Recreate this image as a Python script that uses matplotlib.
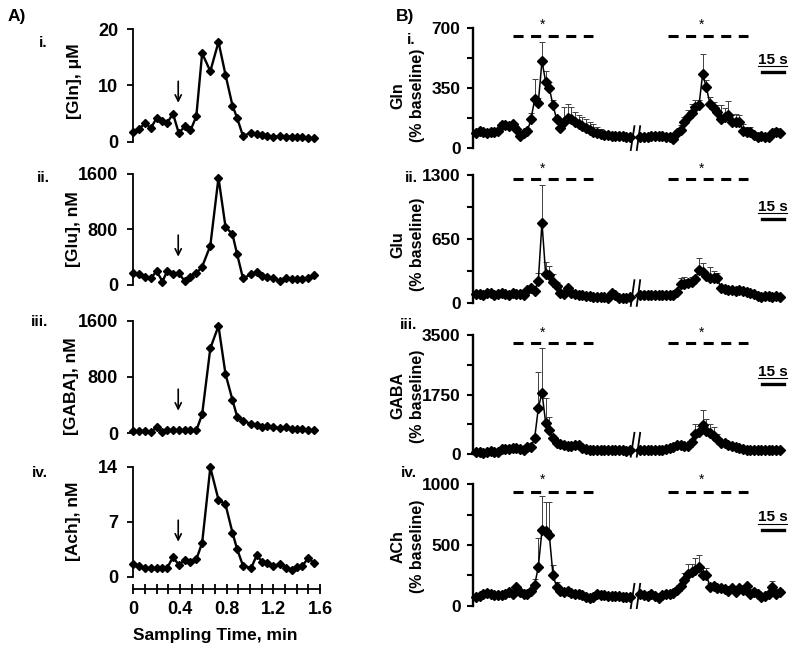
import numpy as np
import matplotlib
matplotlib.use("Agg")
import matplotlib.pyplot as plt
from matplotlib.ticker import MultipleLocator
from matplotlib.transforms import blended_transform_factory

plt.rcParams['font.family'] = ['Liberation Sans', 'DejaVu Sans']
plt.rcParams['font.weight'] = 'bold'
plt.rcParams['axes.labelweight'] = 'bold'

W, H = 800, 655

# ---------------- panel A data (sampling time in min) ----------------
t_a = [0, 0.05, 0.10, 0.15, 0.20, 0.25, 0.29, 0.34, 0.39, 0.44, 0.49, 0.54, 0.59, 0.66, 0.73, 0.79,
       0.85, 0.89, 0.94, 1.01, 1.06, 1.10, 1.15, 1.20, 1.26, 1.31, 1.36, 1.40, 1.45, 1.50, 1.55]
gln_a = [1.8, 2.2, 3.3, 2.4, 4.2, 3.7, 3.3, 5.0, 1.5, 2.7, 2.0, 4.5, 15.7, 12.5, 17.7, 11.9,
         6.4, 4.2, 1.0, 1.6, 1.4, 1.2, 1.0, 0.8, 1.0, 0.9, 0.9, 0.9, 0.8, 0.7, 0.6]
glu_a = [168, 154, 120, 96, 202, 48, 202, 154, 168, 58, 120, 168, 264, 566, 1546, 840,
         730, 442, 96, 154, 183, 134, 120, 96, 58, 96, 86, 86, 80, 100, 150]
gaba_a = [30, 30, 30, 15, 85, 20, 40, 40, 40, 40, 40, 40, 270, 1208, 1525, 843,
          473, 236, 179, 132, 118, 94, 101, 87, 71, 87, 60, 60, 55, 45, 40]
ach_a = [1.6, 1.4, 1.1, 1.1, 1.1, 1.1, 1.1, 2.5, 1.5, 2.1, 1.9, 2.2, 4.3, 13.9, 9.8, 9.2,
         5.6, 3.5, 1.4, 1.1, 2.8, 1.9, 1.7, 1.4, 1.6, 1.1, 0.9, 1.2, 1.4, 2.4, 1.7]
a_labels = ['[Gln], μM', '[Glu], nM', '[GABA], nM', '[Ach], nM']
a_ymax = [20, 1600, 1600, 14]
arrow_time = 0.385
arrow_tip = [6.9, 408, 321, 4.45]

# ---------------- panel B data (% baseline, 2.5 s samples) ----------------
t_left = 2 + 2.5 * np.arange(43)
t_right = 114 + 2.5 * np.arange(39)

gln_l = [88, 98, 90, 86, 94, 92, 100, 135, 132, 127, 137, 110, 68, 84, 96, 166, 283, 264, 508, 387,
         348, 250, 166, 113, 150, 172, 166, 152, 139, 127, 113, 103, 94, 88, 80, 74, 72, 70, 68, 68,
         66, 64, 62]
gln_l_err = [10, 10, 10, 10, 10, 10, 10, 15, 15, 15, 15, 15, 15, 15, 20, 40, 120, 30, 110, 60,
             40, 30, 20, 40, 90, 84, 75, 55, 52, 55, 57, 50, 44, 35, 30, 20, 15, 15, 15, 15,
             15, 15, 15]
gln_r = [60, 64, 64, 66, 68, 68, 66, 62, 60, 50, 84, 105, 152, 180, 205, 240, 250, 432, 354, 255,
         230, 210, 168, 182, 192, 150, 148, 150, 100, 90, 92, 74, 64, 66, 62, 64, 84, 94, 84]
gln_r_err = [10, 10, 10, 10, 10, 10, 10, 10, 10, 10, 20, 30, 30, 40, 50, 40, 30, 117, 40, 45,
             40, 40, 80, 50, 80, 40, 50, 40, 40, 30, 30, 15, 15, 15, 15, 15, 20, 20, 15]

glu_l = [95, 90, 84, 100, 108, 80, 90, 108, 90, 84, 100, 95, 95, 80, 135, 150, 128, 230, 817, 297,
         287, 220, 176, 100, 95, 150, 100, 95, 80, 85, 70, 70, 65, 60, 60, 60, 58, 100, 80, 55,
         50, 55, 60]
glu_l_err = [15, 15, 15, 15, 15, 15, 15, 15, 15, 15, 15, 15, 15, 15, 15, 15, 20, 80, 382, 125,
             90, 80, 40, 20, 15, 15, 15, 15, 15, 15, 15, 15, 15, 15, 15, 15, 15, 15, 15, 15,
             15, 15, 15]
glu_r = [84, 80, 84, 84, 80, 84, 84, 80, 84, 84, 118, 196, 200, 203, 215, 250, 338, 321, 275, 253,
         253, 252, 152, 145, 135, 135, 125, 130, 125, 118, 100, 90, 70, 65, 70, 75, 65, 70, 60]
glu_r_err = [15, 15, 15, 15, 15, 15, 15, 15, 15, 15, 30, 60, 70, 40, 50, 30, 118, 90, 40, 110,
             70, 50, 20, 30, 15, 15, 15, 15, 15, 15, 15, 15, 15, 15, 15, 15, 15, 15, 15]

gaba_l = [78, 60, 50, 80, 100, 78, 80, 147, 160, 160, 176, 176, 150, 130, 225, 210, 470, 1350, 1809, 929,
          714, 469, 342, 300, 274, 245, 245, 260, 270, 180, 150, 130, 120, 120, 120, 120, 120, 120, 120, 120,
          115, 110, 120]
gaba_l_err = [20, 20, 20, 20, 20, 20, 20, 20, 20, 20, 20, 20, 20, 20, 20, 20, 100, 1075, 1300, 714,
              372, 100, 60, 20, 20, 20, 20, 20, 20, 20, 20, 20, 20, 20, 20, 20, 20, 20, 20, 20,
              20, 20, 20]
gaba_r = [120, 120, 120, 120, 120, 118, 120, 150, 180, 220, 274, 270, 250, 240, 350, 597, 640, 861, 694, 616,
          538, 440, 342, 320, 280, 245, 210, 180, 160, 140, 120, 120, 120, 120, 120, 120, 130, 120, 120]
gaba_r_err = [20, 20, 20, 20, 20, 20, 20, 20, 20, 20, 20, 20, 20, 20, 100, 300, 200, 440, 350, 280,
              250, 150, 60, 20, 20, 20, 20, 20, 20, 20, 20, 20, 20, 20, 20, 20, 20, 20, 20]

ach_l = [69, 80, 95, 107, 95, 85, 90, 85, 100, 115, 100, 157, 110, 100, 100, 124, 170, 320, 620, 612,
         582, 253, 157, 120, 115, 124, 105, 100, 95, 85, 75, 60, 70, 100, 90, 85, 80, 80, 80, 80,
         75, 75, 75]
ach_l_err = [15, 15, 15, 15, 15, 15, 15, 15, 15, 15, 15, 15, 15, 15, 15, 15, 50, 235, 280, 245,
             270, 80, 40, 15, 15, 15, 15, 15, 15, 15, 15, 15, 15, 15, 15, 15, 15, 15, 15, 15,
             15, 15, 15]
ach_r = [96, 90, 80, 96, 80, 60, 88, 96, 100, 105, 130, 160, 212, 260, 280, 294, 316, 253, 253, 157,
         162, 143, 143, 135, 124, 143, 115, 143, 130, 162, 100, 115, 100, 75, 80, 100, 157, 95, 115]
ach_r_err = [20, 20, 20, 20, 20, 20, 20, 20, 20, 20, 20, 20, 60, 80, 60, 100, 100, 60, 60, 30,
             20, 20, 20, 20, 20, 20, 20, 20, 20, 20, 20, 20, 20, 20, 20, 20, 50, 20, 20]

b_series = [(gln_l, gln_l_err, gln_r, gln_r_err), (glu_l, glu_l_err, glu_r, glu_r_err),
            (gaba_l, gaba_l_err, gaba_r, gaba_r_err), (ach_l, ach_l_err, ach_r, ach_r_err)]
b_labels = ['Gln\n(% baseline)', 'Glu\n(% baseline)', 'GABA\n(% baseline)', 'ACh\n(% baseline)']
b_ymax = [700, 1300, 3500, 1000]
stim_windows = [(27.5, 82), (133, 187.7)]
star_times = [47.5, 156]
scale_bar = (197, 211.6)   # 15 s
break_at = [(107.5, 110.0), (111.6, 113.9)]

romans = ['i.', 'ii.', 'iii.', 'iv.']

# layout in pixels: (top, height)
a_rows = [(29, 112.7), (174, 111), (320.7, 112.6), (466.7, 110)]
b_rows = [(28.3, 119.4), (175, 128.3), (335, 119.3), (484.3, 121.4)]
a_label_pos = [(75, 0.54), (73.3, 0.5), (71.7, 0.42), (73.3, 0.5)]
b_label_y = [0.44, 0.46, 0.49, 0.49]
dash_frac = [0.938, 0.966, 0.93, 0.939]
star_frac = [1.03, 1.05, 1.02, 1.035]
bar_frac = [0.637, 0.655, 0.589, 0.624]
bar_text_frac = [0.735, 0.753, 0.692, 0.728]
a_roman_y = [43, 178, 322, 473]
b_roman_y = [40, 178, 325, 473]


def px_axes(fig, left, top, width, height):
    return fig.add_axes([left / W, 1 - (top + height) / H, width / W, height / H])


fig = plt.figure(figsize=(W / 100, H / 100), dpi=100)

# ---------------- panel A ----------------
a_data = [gln_a, glu_a, gaba_a, ach_a]
for i in range(4):
    top, h = a_rows[i]
    ax = px_axes(fig, 133.3, top, 186.7, h)
    ax.plot(t_a, a_data[i], '-', color='k', lw=1.7, marker='D', ms=4.5, clip_on=False)
    ax.set_xlim(0, 1.6)
    ax.set_ylim(0, a_ymax[i])
    ax.set_yticks([0, a_ymax[i] / 2, a_ymax[i]])
    ax.set_yticklabels(['0', f'{a_ymax[i] / 2:g}', f'{a_ymax[i]:g}'])
    for s in ['top', 'right']:
        ax.spines[s].set_visible(False)
    ax.spines['left'].set_linewidth(1.3)
    ax.tick_params(axis='y', direction='out', length=4, width=1.3, labelsize=13, pad=7)
    ax.set_ylabel(a_labels[i], fontsize=12.5)
    ax.yaxis.set_label_coords((a_label_pos[i][0] - 133.3) / 186.7, a_label_pos[i][1])
    ax.yaxis.label.set_va('center')
    ax.annotate('', xy=(arrow_time, arrow_tip[i]), xytext=(0, 15.5), textcoords='offset points',
                xycoords='data',
                arrowprops=dict(arrowstyle='->', lw=1.2, color='k', shrinkA=0, shrinkB=0,
                                mutation_scale=11))
    if i < 3:
        ax.spines['bottom'].set_visible(False)
        ax.set_xticks([])
    else:
        ax.spines['bottom'].set_position(('outward', 9))
        ax.spines['bottom'].set_linewidth(1.3)
        ax.spines['bottom'].set_bounds(0, 1.6)
        ax.set_xticks([0, 0.4, 0.8, 1.2, 1.6])
        ax.set_xticklabels(['0', '0.4', '0.8', '1.2', '1.6'])
        ax.xaxis.set_minor_locator(MultipleLocator(0.1))
        ax.tick_params(axis='x', which='both', direction='inout', length=7, width=1.3,
                       labelsize=13, pad=5)
        ax.set_xlabel('Sampling Time, min', fontsize=12.5)
        ax.xaxis.set_label_coords((215 - 133.3) / 186.7, -0.47)
    fig.text(43 / W if i < 2 else 40 / W, 1 - a_roman_y[i] / H, romans[i], fontsize=11,
             ha='center', va='center')

fig.text(17 / W, 1 - 17 / H, 'A)', fontsize=12.5, ha='center', va='center')

# ---------------- panel B ----------------
for i in range(4):
    top, h = b_rows[i]
    ax = px_axes(fig, 473, top, 317, h)
    vl, el, vr, er = b_series[i]
    for t, v, e in [(t_left, vl, el), (t_right, vr, er)]:
        ax.errorbar(t, v, yerr=[np.zeros(len(e)), e], fmt='-', color='k', lw=1.1, marker='D', ms=4.8,
                    ecolor='0.25', elinewidth=0.7, capsize=2, capthick=0.7, clip_on=False)
    ax.set_xlim(0, 216)
    ax.set_ylim(0, b_ymax[i])
    ax.set_yticks([0, b_ymax[i] / 2, b_ymax[i]])
    ax.set_yticklabels(['0', f'{b_ymax[i] / 2:g}', f'{b_ymax[i]:g}'])
    ax.yaxis.set_minor_locator(MultipleLocator(b_ymax[i] / 4))
    for s in ['top', 'right', 'bottom']:
        ax.spines[s].set_visible(False)
    ax.set_xticks([])
    ax.spines['left'].set_linewidth(1.7)
    ax.tick_params(axis='y', which='both', direction='out', length=4, width=1.5, labelsize=12.5, pad=5)
    ax.set_ylabel(b_labels[i], fontsize=11.5, linespacing=1.4)
    ax.yaxis.set_label_coords((408 - 473) / 317, b_label_y[i])
    ax.yaxis.label.set_va('center')

    tr = blended_transform_factory(ax.transData, ax.transAxes)
    for (x0, x1), ts in zip(stim_windows, star_times):
        ax.plot([x0, x1], [dash_frac[i]] * 2, transform=tr, color='k', lw=2.2,
                ls=(0, (3.3, 2.45)), clip_on=False)
        ax.text(ts, star_frac[i], '*', transform=tr, ha='center', va='center', fontsize=10,
                fontweight='normal')
    # axis break marks
    for xb, xt in break_at:
        ax.plot([xb, xt], [-0.02, 0.18], transform=tr, color='k', lw=1.3, clip_on=False)
    # scale bar with underlined label
    ax.plot(scale_bar, [bar_frac[i]] * 2, transform=tr, color='k', lw=2.4, clip_on=False)
    ax.text(sum(scale_bar) / 2, bar_text_frac[i], '15 s', transform=tr, ha='center', va='center',
            fontsize=11)
    ax.plot([194.5, 214], [bar_text_frac[i] - 6.5 / h] * 2, transform=tr, color='k', lw=0.8,
            clip_on=False)
    fig.text(411 / W if i < 2 else 409 / W, 1 - b_roman_y[i] / H, romans[i], fontsize=11,
             ha='center', va='center')

fig.text(405 / W, 1 - 17 / H, 'B)', fontsize=12.5, ha='center', va='center')

fig.savefig('out.png', dpi=100)
